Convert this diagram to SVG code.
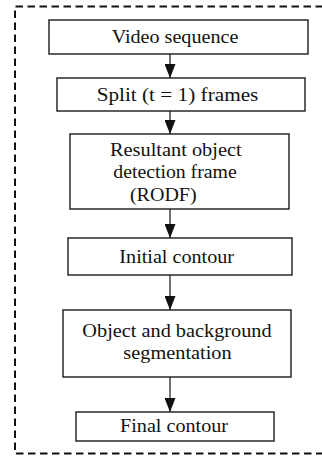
<svg xmlns="http://www.w3.org/2000/svg" width="322" height="458" viewBox="0 0 322 458">
<defs>
<style>
.box{fill:#fff;stroke:#1a1a1a;stroke-width:1.4}
.lbl{font-family:"Liberation Serif","Times New Roman",serif;font-size:18.5px;fill:#111;text-anchor:middle}
.edge{stroke:#444;stroke-width:1.5;fill:none;marker-end:url(#ah)}
.frame{fill:none;stroke:#111;stroke-width:2;stroke-dasharray:7.5,4.5}
</style>
<marker id="ah" viewBox="0 0 14 11" refX="14" refY="5.5" markerWidth="14" markerHeight="11" markerUnits="userSpaceOnUse" orient="auto">
<path d="M0,0 L14,5.5 L0,11 Z" fill="#111"/>
</marker>
</defs>
<path class="frame" d="M335,6.5 H15 V453.5 H335"/>
<g id="connectors">
<line class="edge" x1="170" y1="54" x2="170" y2="78"/>
<line class="edge" x1="170" y1="111" x2="170" y2="134"/>
<line class="edge" x1="170" y1="209" x2="170" y2="238"/>
<line class="edge" x1="170" y1="275" x2="170" y2="310"/>
<line class="edge" x1="170" y1="377" x2="170" y2="412"/>
</g>
<g id="video">
<rect class="box" x="49" y="20" width="259" height="34"/>
<text class="lbl" x="175" y="43.3" textLength="126.7" lengthAdjust="spacingAndGlyphs">Video sequence</text>
</g>
<g id="split">
<rect class="box" x="57" y="78" width="248" height="33"/>
<text class="lbl" x="177.5" y="100.7" textLength="161.7" lengthAdjust="spacingAndGlyphs">Split (t = 1) frames</text>
</g>
<g id="rodf">
<rect class="box" x="70" y="134" width="219" height="75"/>
<text class="lbl" x="175.8" y="155.7" textLength="131.7" lengthAdjust="spacingAndGlyphs">Resultant object</text>
<text class="lbl" x="175" y="178" textLength="123.3" lengthAdjust="spacingAndGlyphs">detection frame</text>
<text class="lbl" x="163.3" y="201" textLength="66.7" lengthAdjust="spacingAndGlyphs">(RODF)</text>
</g>
<g id="initial">
<rect class="box" x="68" y="238" width="224" height="37"/>
<text class="lbl" x="176.7" y="263" textLength="114.7" lengthAdjust="spacingAndGlyphs">Initial contour</text>
</g>
<g id="segmentation">
<rect class="box" x="63" y="310" width="228" height="67"/>
<text class="lbl" x="177" y="337" textLength="189.3" lengthAdjust="spacingAndGlyphs">Object and background</text>
<text class="lbl" x="177.5" y="359" textLength="108.3" lengthAdjust="spacingAndGlyphs">segmentation</text>
</g>
<g id="final">
<rect class="box" x="76" y="412" width="198" height="29"/>
<text class="lbl" x="174" y="431.7" textLength="108" lengthAdjust="spacingAndGlyphs">Final contour</text>
</g>
</svg>
